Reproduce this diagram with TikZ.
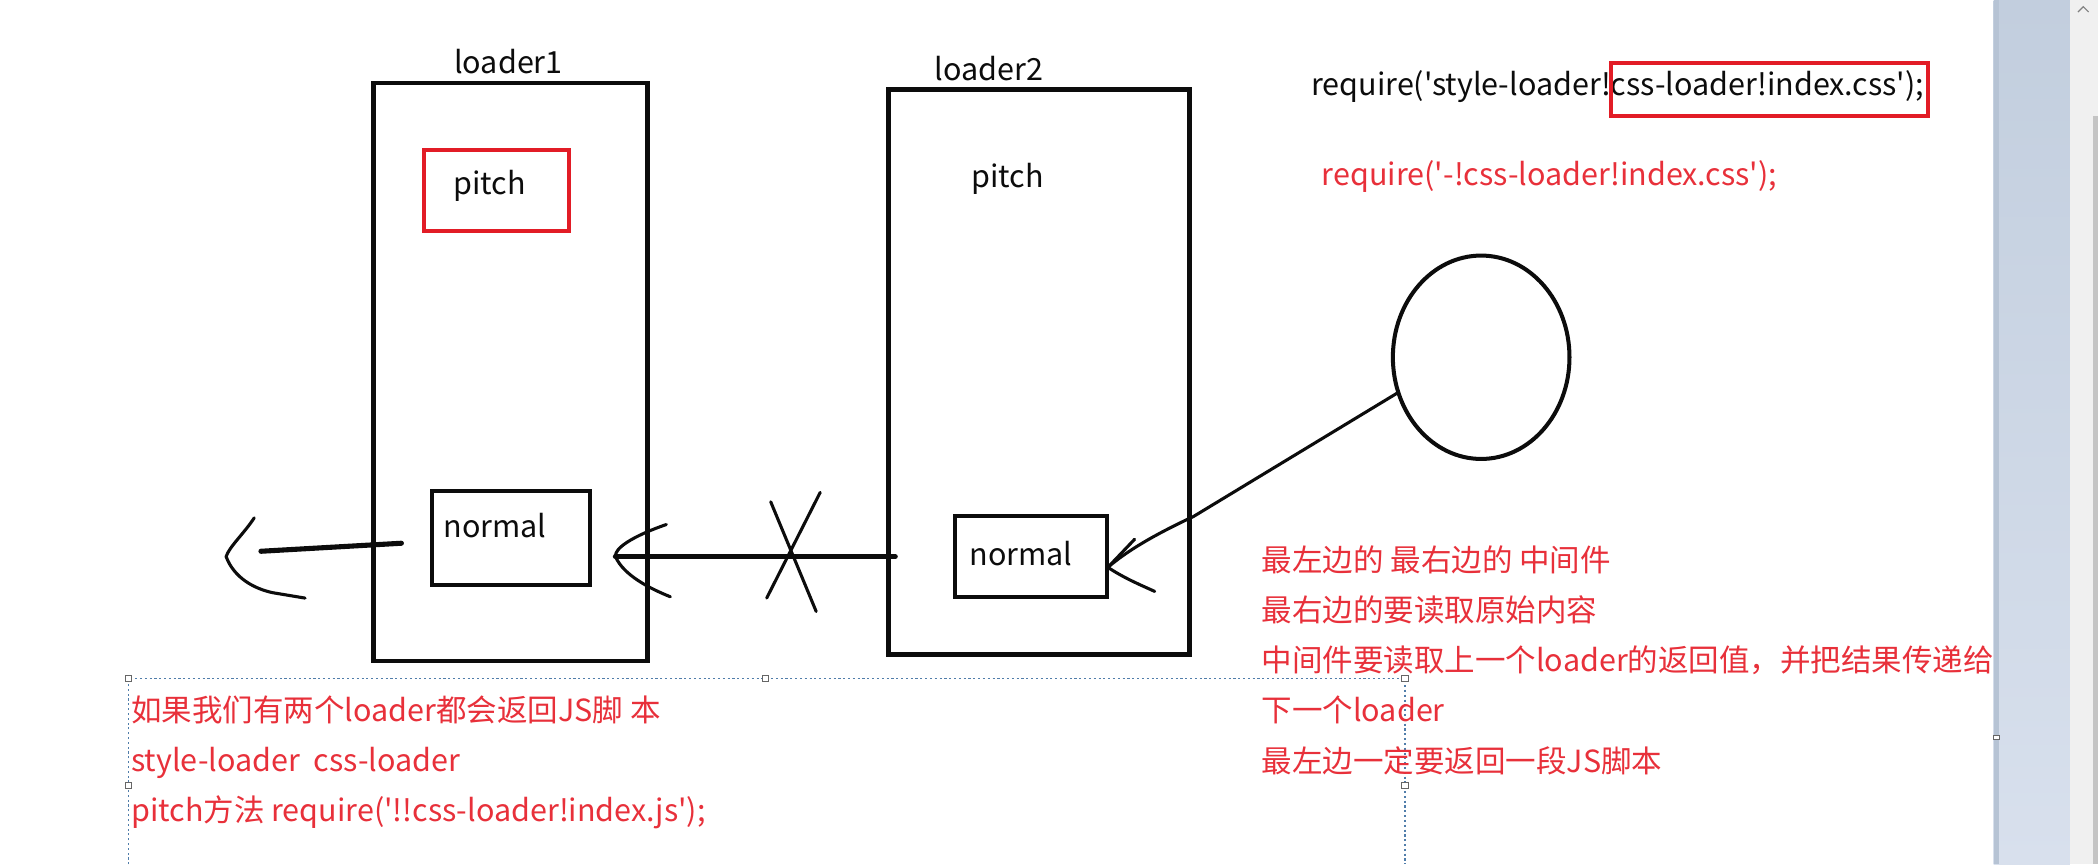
\documentclass[tikz,border=0pt]{standalone}
\usepackage{fontspec}
\newfontfamily\uifont{Noto Sans CJK SC}
\usetikzlibrary{shapes.geometric}
\definecolor{inkblack}{RGB}{12,12,12}
\definecolor{redtxt}{RGB}{232,48,58}
\definecolor{redbox}{RGB}{226,28,38}
\definecolor{selblue}{RGB}{80,125,170}
\definecolor{panelTop}{RGB}{194,206,222}
\definecolor{panelBot}{RGB}{216,224,237}
\definecolor{panelEdge}{RGB}{182,195,212}
\definecolor{sbar}{RGB}{240,240,240}
\definecolor{sthumb}{RGB}{196,196,196}
\begin{document}
\begin{tikzpicture}[x=1pt,y=-1pt,
  every node/.style={inner sep=0pt, outer sep=0pt},
  txt/.style={font=\uifont\fontsize{22.8}{27}\selectfont, text=inkblack},
  rtxt/.style={font=\uifont\fontsize{22.8}{27}\selectfont, text=redtxt, anchor=base west},
  frame/.style={draw=inkblack, line width=3.4pt},
  redframe/.style={draw=redbox, line width=3pt},
  pen/.style={draw=inkblack, line width=2.3pt, line cap=round, line join=round},
  thickpen/.style={draw=inkblack, line width=4pt, line cap=round},
  sel/.style={draw=selblue, line width=1.1pt, dash pattern=on 1.6pt off 2pt},
  handle/.style={draw=gray!80!black, fill=white, line width=0.7pt, minimum size=5pt}]
\useasboundingbox (0,0) rectangle (1568,646);
% page and window chrome
\fill[white] (0,0) rectangle (1568,646);
\shade[top color=panelTop, bottom color=panelBot] (1490,0) rectangle (1547,646);
\fill[panelEdge] (1490,0) rectangle (1494,646);
\fill[sbar] (1547,0) rectangle (1568,646);
\fill[sthumb] (1564,87) rectangle (1568,646);
\draw[gray, line width=0.8pt] (1553,9) -- (1557,5) -- (1561,9);

% loader boxes
\node[frame, minimum width=205pt, minimum height=432pt] (L1) at (381.5,278) {};
\node[frame, minimum width=225pt, minimum height=422pt] (L2) at (776.5,278) {};
\node[redframe, minimum width=108pt, minimum height=61pt] (P1) at (371,142.5) {};
\node[frame, line width=3pt, minimum width=118pt, minimum height=70pt] (N1) at (382,402) {};
\node[frame, line width=3pt, minimum width=113pt, minimum height=60pt] (N2) at (770.5,416) {};
\node[draw=inkblack, line width=3pt, ellipse, minimum width=132pt, minimum height=152pt] (C) at (1107,267) {};

% labels
\node[txt, anchor=base] (t1) at (380,55) {loader1};
\node[txt, anchor=base] (t2) at (739,60) {loader2};
\node[txt, anchor=base] (tp1) at (366,145) {pitch};
\node[txt, anchor=base] (tp2) at (753,140) {pitch};
\node[txt, anchor=base] (tn1) at (370,402) {normal};
\node[txt, anchor=base] (tn2) at (763,423) {normal};

% require lines
\node[txt, anchor=base west] (rq1) at (980,71) {require('style-loader!css-loader!index.css');};
\node[redframe, minimum width=237pt, minimum height=40pt] (HL) at (1322.5,67) {};
\node[rtxt] (rq2) at (988,139) {require('-!css-loader!index.css');};

% connectors
\coordinate (m1) at (669,416);
\coordinate (m2) at (460,416);
\draw[thickpen] (m1) -- (m2);
\draw[pen] (498,392) .. controls (472,401) and (459,410) .. (m2) .. controls (466,430) and (486,440) .. (501,446);
\draw[pen] (576,375) -- (610,457);
\draw[pen] (613,368) -- (573,447);

\coordinate (a1) at (300,406);
\coordinate (a2) at (195,412);
\draw[thickpen, line width=3.8pt] (a1) -- (a2);
\coordinate (a3) at (169,416);
\draw[pen] (190,387) .. controls (183,398) and (171,409) .. (a3) .. controls (175,432) and (190,440) .. (204,443) -- (228,447);

\coordinate (tipR) at (828,424);
\draw[pen] (C.203) -- (892,386) .. controls (862,400) and (842,412) .. (tipR);
\draw[pen] (tipR) -- (848,403);
\draw[pen] (tipR) .. controls (840,432) and (852,437) .. (863,442);

% selection frame
\draw[sel] (96,646) -- (96,507) -- (1050,507) -- (1050,646);
\node[handle] (h1) at (96,507) {};
\node[handle] (h2) at (572,507) {};
\node[handle] (h3) at (1050,507) {};
\node[handle] (h4) at (96,587) {};
\node[handle] (h5) at (1050,587) {};
\node[handle, minimum width=4pt, minimum height=3pt] (h6) at (1492,551) {};

% red notes, left
\node[rtxt] (n1) at (98,539) {如果我们有两个loader都会返回JS脚 本};
\node[rtxt] (n2) at (98,576.5) {style-loader\hspace{0.45em}css-loader};
\node[rtxt] (n3) at (98,614) {pitch方法 require('!!css-loader!index.js');};

% red notes, right
\node[rtxt] (r1) at (943,427) {最左边的 最右边的 中间件};
\node[rtxt] (r2) at (943,464.5) {最右边的要读取原始内容};
\node[rtxt] (r3) at (943,502) {中间件要读取上一个loader的返回值，并把结果传递给};
\node[rtxt] (r4) at (943,539.5) {下一个loader};
\node[rtxt] (r5) at (943,577) {最左边一定要返回一段JS脚本};
\end{tikzpicture}
\end{document}
